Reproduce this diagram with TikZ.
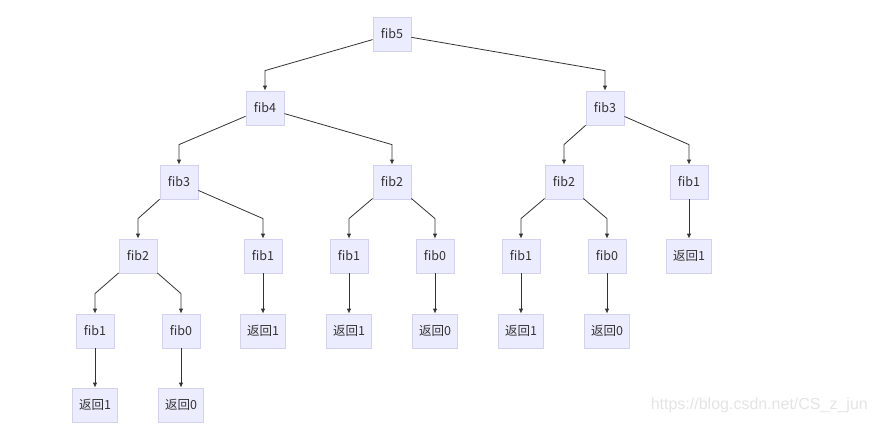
\documentclass[tikz,border=0pt]{standalone}
\usepackage{fontspec}
\setmainfont{Liberation Sans}
\newfontfamily\cjk{Noto Sans CJK SC}
\usetikzlibrary{arrows.meta}
\definecolor{fibNodeFill}{HTML}{ECECFF}
\definecolor{fibNodeLine}{HTML}{D4D0F2}
\definecolor{fibEdgeGray}{HTML}{333333}
\definecolor{fibMarkGray}{HTML}{E4E4E4}
\tikzset{
  fibBox/.style={draw=fibNodeLine, fill=fibNodeFill, line width=0.8pt, minimum width=38pt,
    minimum height=34pt, inner xsep=6.5pt, font=\cjk\fontsize{12.5}{14}\selectfont, text=black!80},
  fibEdge/.style={draw=fibEdgeGray, line width=0.8pt, -{Latex[length=5pt,width=4.5pt]}}
}

\begin{document}
\begin{tikzpicture}[x=1pt, y=-1pt]
    \useasboundingbox (0,0) rectangle (877,424);
    % level 1 and 2
    \node[fibBox] (n5) at (392,34) {fib5};
    \node[fibBox] (n4) at (265,108) {fib4};
    \node[fibBox] (n3r) at (605,108) {fib3};
    % level 3
    \node[fibBox] (n3) at (179,182) {fib3};
    \node[fibBox] (n2m) at (392,182) {fib2};
    \node[fibBox] (n2r) at (564,182) {fib2};
    \node[fibBox] (n1r) at (689,182) {fib1};
    % level 4
    \node[fibBox] (n2) at (138,256) {fib2};
    \node[fibBox] (n1a) at (263,256) {fib1};
    \node[fibBox] (n1b) at (349,256) {fib1};
    \node[fibBox] (n0b) at (435,256) {fib0};
    \node[fibBox] (n1c) at (521,256) {fib1};
    \node[fibBox] (n0c) at (607,256) {fib0};
    \node[fibBox] (r1r) at (689,256) {返回1};
    % level 5
    \node[fibBox] (n1) at (95,331) {fib1};
    \node[fibBox] (n0) at (181,331) {fib0};
    \node[fibBox] (r1a) at (263,331) {返回1};
    \node[fibBox] (r1b) at (349,331) {返回1};
    \node[fibBox] (r0b) at (435,331) {返回0};
    \node[fibBox] (r1c) at (521,331) {返回1};
    \node[fibBox] (r0c) at (607,331) {返回0};
    % level 6
    \node[fibBox] (r1) at (95,405) {返回1};
    \node[fibBox] (r0) at (181,405) {返回0};

    % split edges
    \draw[fibEdge] (n5) -- ([yshift=20pt]n4.north) -- (n4);
    \draw[fibEdge] (n5) -- ([yshift=20pt]n3r.north) -- (n3r);
    \draw[fibEdge] (n4) -- ([yshift=20pt]n3.north) -- (n3);
    \draw[fibEdge] (n4) -- ([yshift=20pt]n2m.north) -- (n2m);
    \draw[fibEdge] (n3r) -- ([yshift=20pt]n2r.north) -- (n2r);
    \draw[fibEdge] (n3r) -- ([yshift=20pt]n1r.north) -- (n1r);
    \draw[fibEdge] (n3) -- ([yshift=20pt]n2.north) -- (n2);
    \draw[fibEdge] (n3) -- ([yshift=20pt]n1a.north) -- (n1a);
    \draw[fibEdge] (n2m) -- ([yshift=20pt]n1b.north) -- (n1b);
    \draw[fibEdge] (n2m) -- ([yshift=20pt]n0b.north) -- (n0b);
    \draw[fibEdge] (n2r) -- ([yshift=20pt]n1c.north) -- (n1c);
    \draw[fibEdge] (n2r) -- ([yshift=20pt]n0c.north) -- (n0c);
    \draw[fibEdge] (n2) -- ([yshift=20pt]n1.north) -- (n1);
    \draw[fibEdge] (n2) -- ([yshift=20pt]n0.north) -- (n0);
    % straight edges
    \draw[fibEdge] (n1r) -- (r1r);
    \draw[fibEdge] (n1a) -- (r1a);
    \draw[fibEdge] (n1b) -- (r1b);
    \draw[fibEdge] (n0b) -- (r0b);
    \draw[fibEdge] (n1c) -- (r1c);
    \draw[fibEdge] (n0c) -- (r0c);
    \draw[fibEdge] (n1) -- (r1);
    \draw[fibEdge] (n0) -- (r0);

    \node[font=\fontsize{16}{18}\selectfont, text=fibMarkGray, anchor=east, inner sep=0pt] (mark) at (868,405) {https://blog.csdn.net/CS\_z\_jun};
\end{tikzpicture}
\end{document}
